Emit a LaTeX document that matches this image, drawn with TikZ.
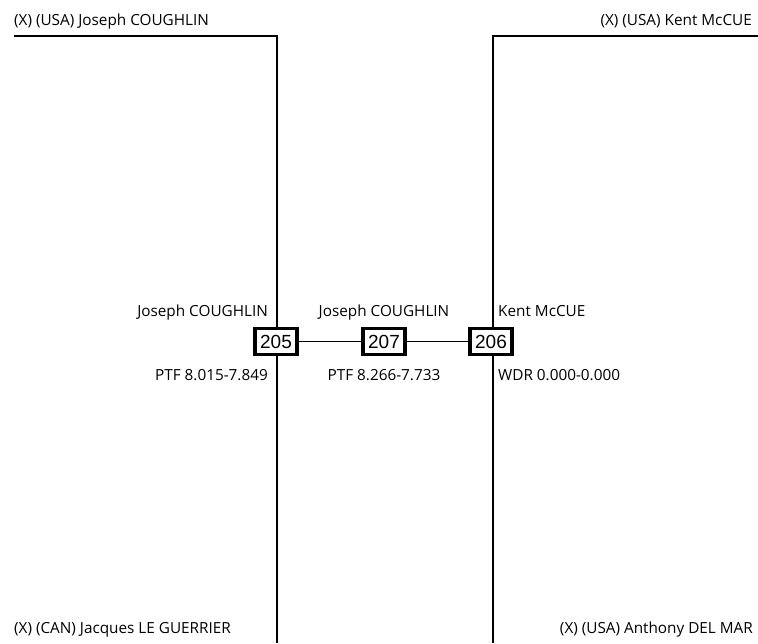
\documentclass[tikz,border=0pt]{standalone}
\usepackage{fontspec}
\setmainfont{Open Sans}
\newfontfamily\numfont{Liberation Sans}
\usetikzlibrary{positioning}

\begin{document}
\begin{tikzpicture}[x=1pt, y=-1pt, font=\fontsize{15.3}{18}\selectfont,
  bout/.style={draw, line width=3.1pt, fill=white, inner sep=0pt,
    minimum width=42pt, minimum height=26pt,
    font=\numfont\fontsize{19}{21}\selectfont},
  wire/.style={line width=1.7pt},
  nm/.style={inner sep=0pt}]
  \useasboundingbox (0,0) rectangle (758,643);

  % brackets
  \coordinate (tl) at (14,36);
  \coordinate (tlc) at (277,36);
  \coordinate (bl) at (277,643);
  \coordinate (tr) at (758,36);
  \coordinate (trc) at (493,36);
  \coordinate (br) at (493,643);
  \draw[wire] (tl) -- (tlc) -- (bl);
  \draw[wire] (tr) -- (trc) -- (br);

  % bouts
  \node[bout] (b205) at (276,341.5) {205};
  \node[bout] (b207) at (384,341.5) {207};
  \node[bout] (b206) at (491,341.5) {206};
  \draw[wire] (b205) -- (b207) -- (b206);

  % fencers
  \node[nm, anchor=base west] (f1) at (14,25) {(X) (USA) Joseph COUGHLIN};
  \node[nm, anchor=base east] (f2) at (752,25) {(X) (USA) Kent McCUE};
  \node[nm, anchor=base west] (f3) at (14,633) {(X) (CAN) Jacques LE GUERRIER};
  \node[nm, anchor=base east] (f4) at (753,633) {(X) (USA) Anthony DEL MAR};

  % winners and scores
  \node[nm, anchor=base east] (w205) at (268,316) {Joseph COUGHLIN};
  \node[nm, anchor=base] (w207) at (384,316) {Joseph COUGHLIN};
  \node[nm, anchor=base west] (w206) at (498,316) {Kent McCUE};
  \node[nm, anchor=base east] (s205) at (268,380) {PTF 8.015-7.849};
  \node[nm, anchor=base] (s207) at (384,380) {PTF 8.266-7.733};
  \node[nm, anchor=base west] (s206) at (498,380) {WDR 0.000-0.000};
\end{tikzpicture}
\end{document}
